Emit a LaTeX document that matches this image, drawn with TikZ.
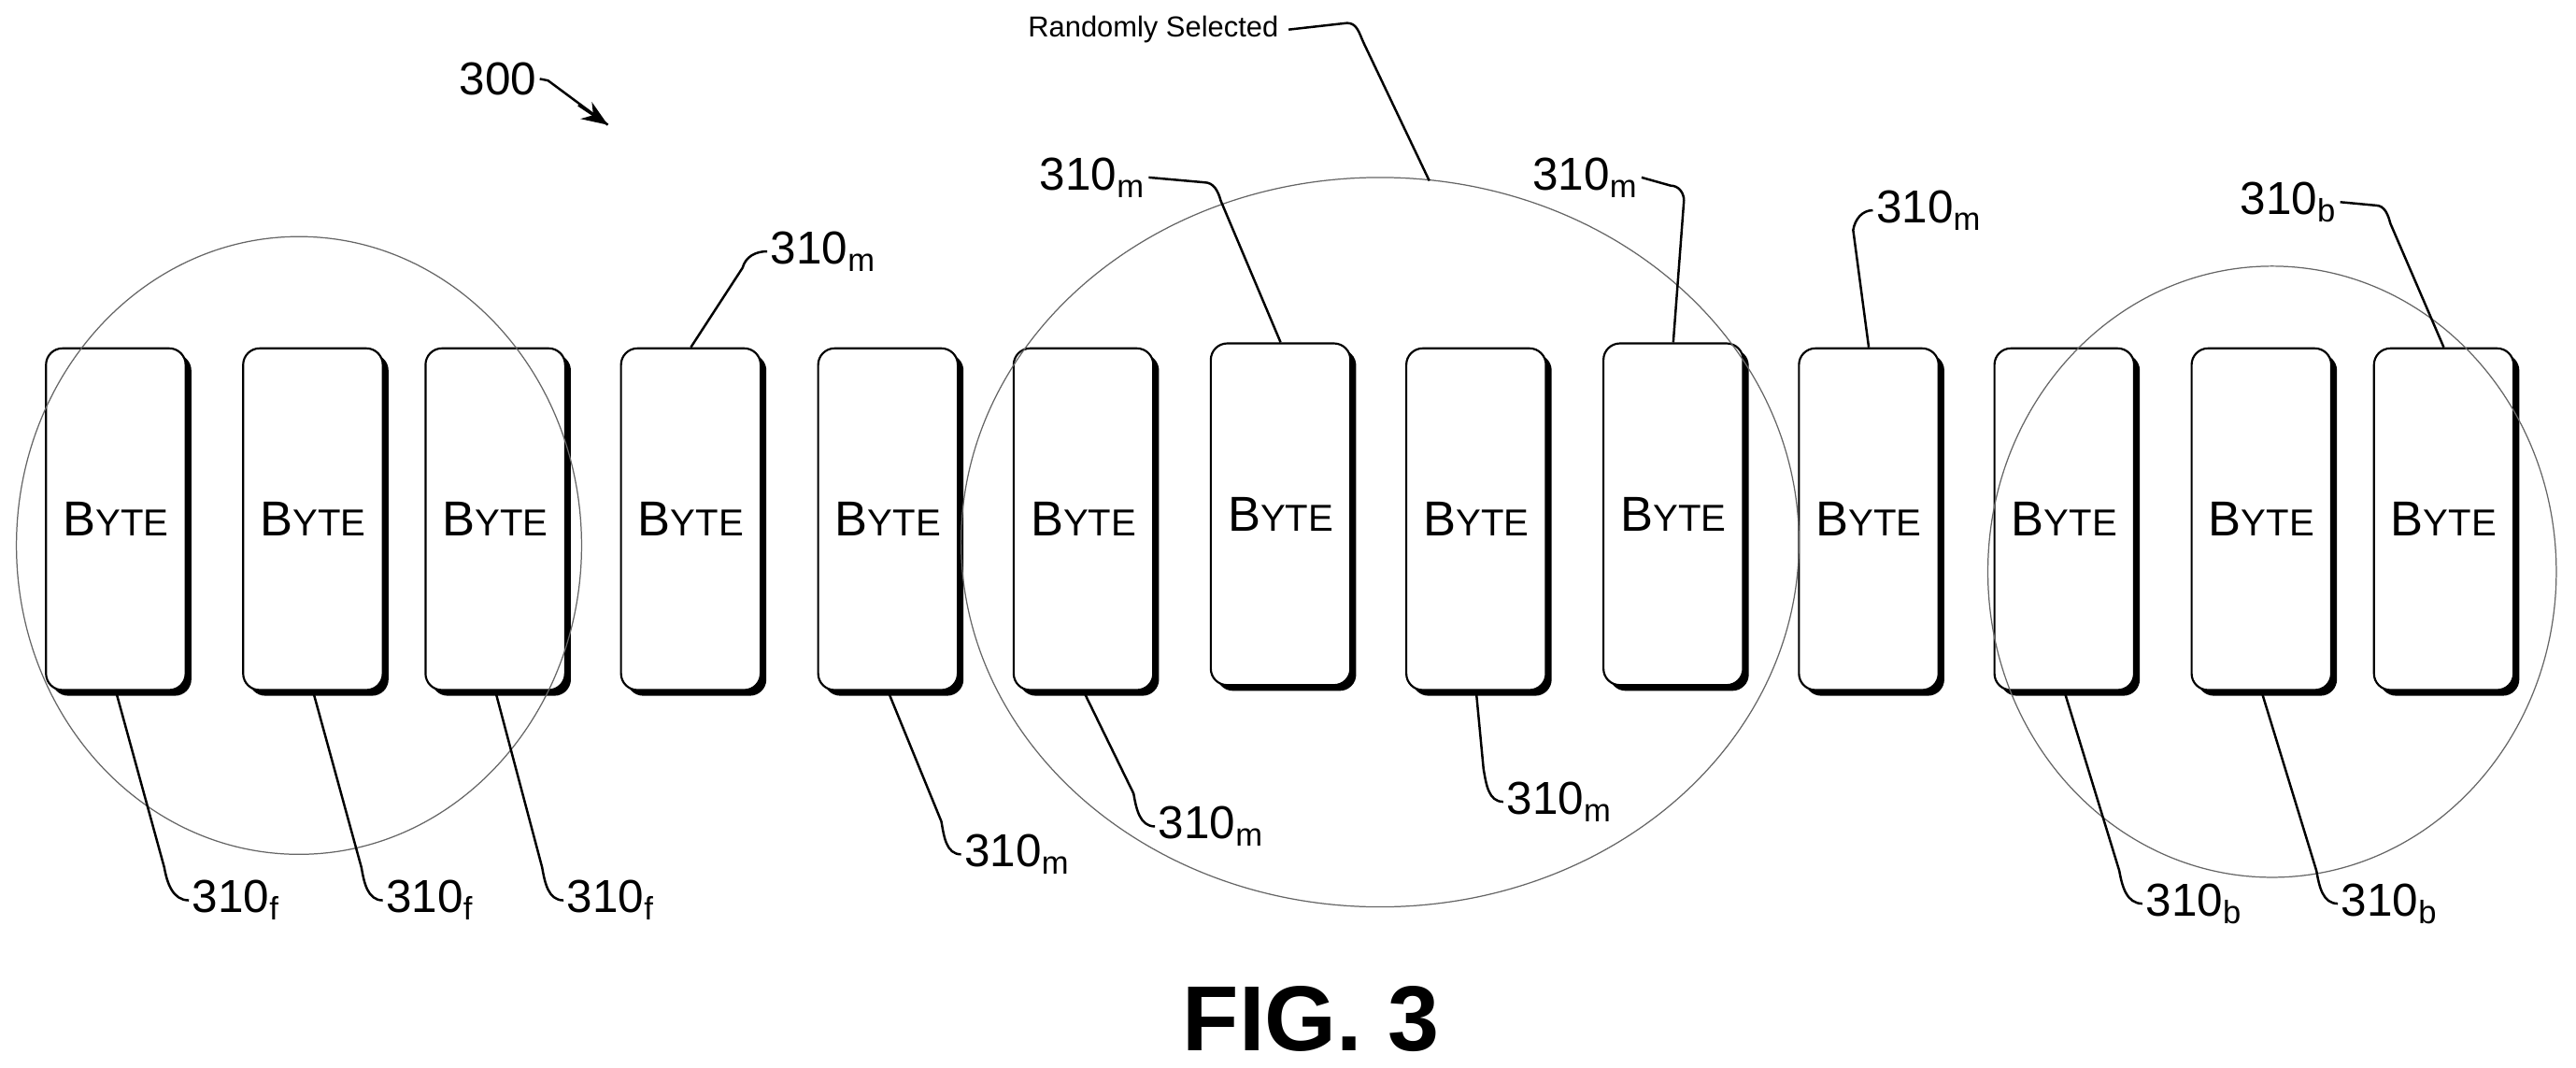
\documentclass[tikz,border=0pt]{standalone}
\usepackage{fontspec}
\setmainfont{Liberation Sans}
\usetikzlibrary{shadows,arrows.meta}
\begin{document}
\begin{tikzpicture}[x=0.02cm,y=-0.02cm,
  box/.style={draw,line width=0.7pt,fill=white,rounded corners=0.2cm,minimum width=1.7cm,minimum height=4.16cm,inner sep=0pt,
     drop shadow={shadow xshift=0.07cm,shadow yshift=-0.07cm,fill=black,opacity=1}},
  lbl/.style={font=\fontsize{16}{18}\selectfont,inner sep=1pt},
  lead/.style={line width=0.8pt},
  grp/.style={draw,line width=0.4pt,gray!80!black}]
\useasboundingbox (0,0) rectangle (1568,650);
\newcommand{\byte}{\fontsize{17}{19}\selectfont B{\fontsize{13}{15}\selectfont YTE}}
% boxes
\foreach \n/\x/\y in {1/70.5/316,2/190.5/316,3/301.5/316,4/420.5/316,5/540.5/316,6/659.5/316,7/779.5/313,8/898.5/316,9/1018.5/313,10/1137.5/316,11/1256.5/316,12/1376.5/316,13/1487.5/316}
  \node[box] (b\n) at (\x,\y) {\byte};
% group ellipses
\draw[grp] (182,332) ellipse [x radius=172, y radius=188];
\draw[grp] (840,330) ellipse [x radius=255, y radius=222];
\draw[grp] (1383,348) ellipse [x radius=173, y radius=186];
% title labels
\node[lbl] (t300) at (303,48) {300};
\coordinate (a300) at (370,76);
\draw[lead] (t300.east) -- ++(5,1) -- (a300);
\draw[-{Stealth[length=9pt,width=7pt]},line width=0.8pt] (352,64) -- (a300);
\node[font=\fontsize{10}{12}\selectfont] (rs) at (702,18) {Randomly Selected};
\coordinate (rse) at (870,110);
\draw[lead] (rs.east) -- (820,14) to[out=0,in=115] (830,26) -- (rse);
% top labels
\node[lbl,anchor=west] (m4) at (467,153) {310\textsubscript{m}};
\draw[lead] (m4.west) to[out=180,in=75] (452,163) -- (b4.north);
\node[lbl] (m7) at (665,108) {310\textsubscript{m}};
\draw[lead] (m7.east) -- (733,111) to[out=0,in=105] (743,122) -- (b7.north);
\node[lbl] (m9) at (965,108) {310\textsubscript{m}};
\draw[lead] (m9.east) -- (1017,113) to[out=0,in=90] (1025,122) -- (b9.north);
\node[lbl,anchor=west] (m10) at (1140,128) {310\textsubscript{m}};
\draw[lead] (m10.west) to[out=180,in=80] (1128,140) -- (b10.north);
\node[lbl] (b13l) at (1393,123) {310\textsubscript{b}};
\draw[lead] (b13l.east) -- (1446,125) to[out=0,in=105] (1455,136) -- (b13.north);
% bottom labels
\foreach \b/\lx/\ly/\tx/\s in {1/100/528/115/f,2/220/528/233/f,3/330/528/343/f,5/573/500/585/m,6/690/483/703/m,8/903/468/915/m,11/1290/530/1304/b,12/1410/530/1423/b}{
  \node[lbl,anchor=west] (L\b) at (\tx,{\ly+20}) {310\textsubscript{\s}};
  \draw[lead] (b\b.south) -- (\lx,\ly) to[out=-80,in=180] (L\b.west);
}
\node[font=\bfseries\fontsize{32}{36}\selectfont] (fig) at (798,620) {FIG. 3};
\end{tikzpicture}
\end{document}
